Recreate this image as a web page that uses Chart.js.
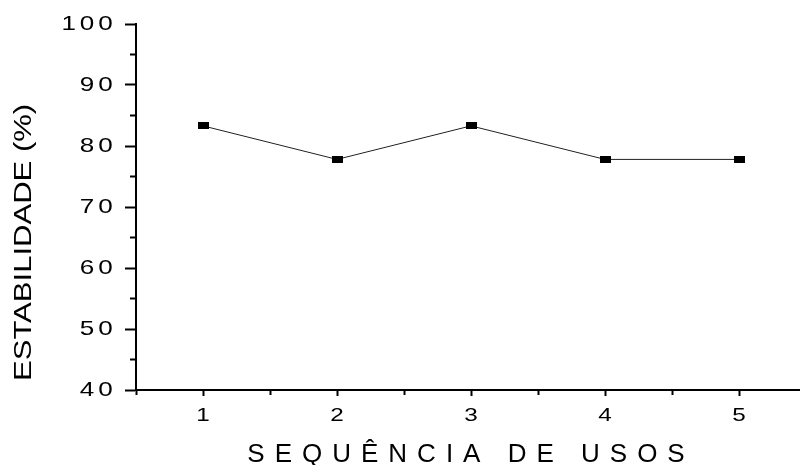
<!DOCTYPE html>
<html>
<head>
<meta charset="utf-8">
<script src="https://cdn.jsdelivr.net/npm/chart.js@4.4.1/dist/chart.umd.min.js"></script>
<style>
  html, body { margin: 0; padding: 0; background: #fff; width: 800px; height: 465px; overflow: hidden; }
  canvas { display: block; }
</style>
</head>
<body>
<canvas id="chart" width="815" height="465"></canvas>
<script>
// Stability of the material over successive reuse cycles
const usageSequence = [1, 2, 3, 4, 5];
const stabilityPercent = [83.3, 77.8, 83.3, 77.8, 77.8];
const xTickLabels = [1, 2, 3, 4, 5];
const yTickLabels = [40, 50, 60, 70, 80, 90, 100];
const xAxisTitle = 'SEQUÊNCIA DE USOS';
const yAxisTitle = 'ESTABILIDADE (%)';

const FONT = 'Liberation Sans, Arial, Helvetica, sans-serif';

// small filled rectangle used as the point marker
const marker = document.createElement('canvas');
marker.width = 11;
marker.height = 7;
const mctx = marker.getContext('2d');
mctx.fillStyle = '#000';
mctx.fillRect(0, 0, 11, 7);

// Draws with wide lettering: glyphs stretched along the writing direction
// (about each text anchor) plus optional extra letter spacing.
function withLettering(ctx, stretch, spacing, draw) {
  const fill = ctx.fillText;
  ctx.save();
  ctx.letterSpacing = spacing + 'px';
  ctx.fillText = function (text, x, y, maxWidth) {
    this.save();
    this.translate(x, y);
    this.scale(stretch, 1);
    if (maxWidth === undefined || maxWidth === null) {
      fill.call(this, text, 0, 0);
    } else {
      fill.call(this, text, 0, 0, maxWidth / stretch);
    }
    this.restore();
  };
  try {
    draw();
  } finally {
    delete ctx.fillText;
    ctx.restore();
  }
}

const axisLettering = {
  id: 'axisLettering',
  beforeDraw(chart) {
    const ctx = chart.ctx;
    const { x, y } = chart.scales;
    if (y.$lettered) return;
    const yTitle = y.drawTitle, yLabels = y.drawLabels;
    const xTitle = x.drawTitle, xLabels = x.drawLabels;
    y.drawTitle = function () {
      const args = arguments;
      withLettering(ctx, 1.35, 0, () => {
        ctx.translate(0, -9);
        yTitle.apply(this, args);
      });
    };
    y.drawLabels = function () {
      const args = arguments;
      withLettering(ctx, 1.24, 3.1, () => yLabels.apply(this, args));
    };
    x.drawTitle = function () {
      const args = arguments;
      withLettering(ctx, 1, 10, () => xTitle.apply(this, args));
    };
    x.drawLabels = function () {
      const args = arguments;
      withLettering(ctx, 1.35, 0, () => xLabels.apply(this, args));
    };
    y.$lettered = true;
  }
};

const isMajor = (v, list) => list.includes(v);

new Chart(document.getElementById('chart'), {
  type: 'line',
  data: {
    datasets: [{
      data: usageSequence.map((u, i) => ({ x: u, y: stabilityPercent[i] })),
      borderColor: '#222',
      borderWidth: 1,
      pointStyle: marker,
      pointRadius: 6,
      pointHoverRadius: 6,
      tension: 0,
      fill: false
    }]
  },
  options: {
    responsive: false,
    animation: false,
    events: [],
    layout: { padding: { top: 24, right: 4, left: 0, bottom: 0 } },
    plugins: { legend: { display: false }, tooltip: { enabled: false } },
    scales: {
      x: {
        type: 'linear',
        min: 0.5,
        max: 5.5,
        afterFit(scale) { scale.height = 75; },
        border: { display: true, color: '#000', width: 2 },
        grid: {
          drawOnChartArea: false,
          drawTicks: true,
          tickLength: 6,
          tickColor: '#000',
          tickWidth: 2,
          tickBorderDash: (c) => isMajor(c.tick && c.tick.value, xTickLabels) ? [] : [4, 100]
        },
        ticks: {
          stepSize: 0.5,
          autoSkip: false,
          maxRotation: 0,
          padding: 9,
          color: '#000',
          font: { family: FONT, size: 18 },
          callback: (v) => isMajor(v, xTickLabels) ? String(v) : ''
        },
        title: {
          display: true,
          text: xAxisTitle,
          color: '#000',
          font: { family: FONT, size: 26, lineHeight: 0.8 },
          padding: { top: 0, bottom: 0 }
        }
      },
      y: {
        type: 'linear',
        min: 40,
        max: 100,
        afterFit(scale) { scale.width = 136; },
        border: { display: true, color: '#000', width: 2 },
        grid: {
          drawOnChartArea: false,
          drawTicks: true,
          tickLength: 11,
          tickColor: '#000',
          tickWidth: 2,
          tickBorderDash: (c) => isMajor(c.tick && c.tick.value, yTickLabels) ? [] : [0, 5, 6, 0]
        },
        ticks: {
          stepSize: 5,
          autoSkip: false,
          padding: 8.5,
          color: '#000',
          font: { family: FONT, size: 21 },
          callback: (v) => isMajor(v, yTickLabels) ? String(v) : ''
        },
        title: {
          display: true,
          text: yAxisTitle,
          align: 'start',
          color: '#000',
          font: { family: FONT, size: 23 },
          padding: { top: 11, bottom: 0 }
        }
      }
    }
  },
  plugins: [axisLettering]
});
</script>
</body>
</html>
